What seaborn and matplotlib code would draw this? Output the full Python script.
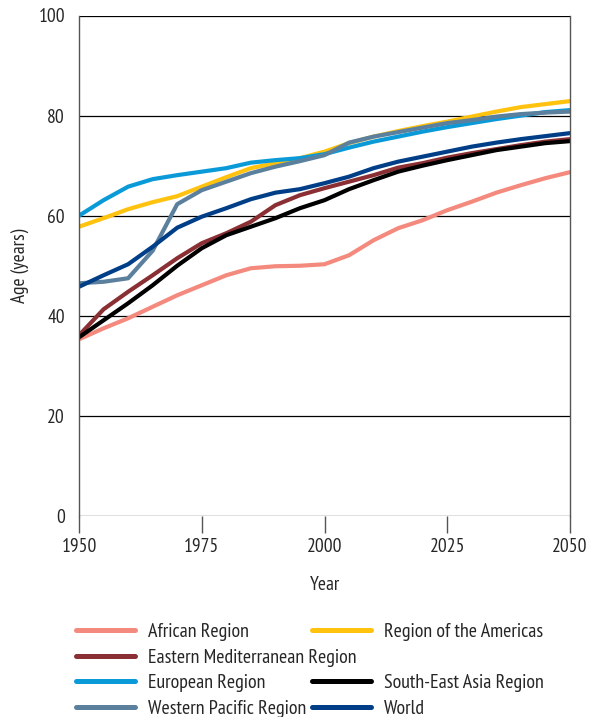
import pandas as pd
import seaborn as sns
import matplotlib.pyplot as plt
from matplotlib.lines import Line2D

# data (5-year steps)
years = list(range(1950, 2051, 5))
african = [35.3, 37.5, 39.5, 41.8, 44.1, 46.1, 48.1, 49.5, 49.9, 50.0, 50.3, 52.1, 55.1, 57.5, 59.1, 61.1, 62.8, 64.6, 66.1, 67.5, 68.7]
emr = [36.1, 41.3, 44.8, 48.1, 51.5, 54.5, 56.5, 58.8, 62.1, 64.1, 65.5, 66.8, 68.1, 69.6, 70.5, 71.6, 72.5, 73.3, 74.1, 74.8, 75.3]
european = [60.0, 63.1, 65.8, 67.3, 68.1, 68.8, 69.5, 70.6, 71.1, 71.5, 72.3, 73.6, 74.8, 75.8, 76.8, 77.7, 78.5, 79.3, 80.0, 80.7, 81.1]
americas = [57.8, 59.5, 61.3, 62.7, 63.9, 65.8, 67.7, 69.5, 70.5, 71.5, 72.8, 74.5, 75.8, 76.9, 77.9, 78.8, 79.8, 80.8, 81.7, 82.3, 82.9]
sear = [35.7, 39.1, 42.5, 46.1, 50.0, 53.5, 56.1, 57.8, 59.5, 61.5, 63.1, 65.3, 67.1, 68.8, 70.0, 71.1, 72.1, 73.1, 73.8, 74.5, 74.9]
wpr = [46.5, 46.8, 47.5, 53.0, 62.3, 65.1, 66.8, 68.5, 69.8, 70.9, 72.1, 74.6, 75.8, 76.7, 77.6, 78.5, 79.1, 79.8, 80.3, 80.6, 80.8]
world = [45.8, 48.1, 50.3, 53.8, 57.6, 59.8, 61.5, 63.3, 64.6, 65.3, 66.5, 67.8, 69.5, 70.8, 71.8, 72.8, 73.8, 74.6, 75.3, 75.9, 76.5]

series = {
    "African Region": african,
    "Region of the Americas": americas,
    "Eastern Mediterranean Region": emr,
    "European Region": european,
    "South-East Asia Region": sear,
    "Western Pacific Region": wpr,
    "World": world,
}
colors = {
    "African Region": "#f48a7e",
    "Region of the Americas": "#ffc20e",
    "Eastern Mediterranean Region": "#8a2f33",
    "European Region": "#0b9ad8",
    "South-East Asia Region": "#000000",
    "Western Pacific Region": "#5b809e",
    "World": "#003f88",
}

df = pd.DataFrame([
    {"Year": y, "Age": v, "Region": name}
    for name, vals in series.items() for y, v in zip(years, vals)
])

sns.set_style("white")
plt.rcParams["font.family"] = ["PT Sans Narrow", "Roboto Condensed", "DejaVu Sans"]

fig = plt.figure(figsize=(5.89, 7.17), dpi=100)
ax = fig.add_axes([79 / 589, 1 - 516 / 717, 491 / 589, 500.5 / 717])

sns.lineplot(data=df, x="Year", y="Age", hue="Region", palette=colors,
             linewidth=3, legend=False, ax=ax)

ax.set_xlim(1950, 2050)
ax.set_ylim(0, 100)
ax.set_xticks([1950, 1975, 2000, 2025, 2050])
ax.set_yticks([0, 20, 40, 60, 80, 100])
ax.grid(axis="y", color="black", linewidth=0.9)
ax.grid(axis="x", visible=False)
for side in ["top", "bottom"]:
    ax.spines[side].set_visible(False)
for side in ["left", "right"]:
    ax.spines[side].set_color("#555555")
    ax.spines[side].set_linewidth(1.0)
ax.tick_params(axis="x", length=12, width=1, color="#555555", pad=4, labelsize=14, bottom=True)
ax.tick_params(axis="y", length=0, pad=10, labelsize=14)
ax.set_xlabel("Year", fontsize=14, labelpad=14)
ax.set_ylabel("Age (years)", fontsize=14, labelpad=7)

def handle(name):
    return Line2D([], [], color=colors[name], linewidth=3.6, solid_capstyle="round")

blank = Line2D([], [], color="none")
left_names = ["African Region", "Eastern Mediterranean Region", "European Region", "Western Pacific Region"]
right_names = ["Region of the Americas", None, "South-East Asia Region", "World"]

leg_kw = dict(frameon=False, fontsize=14.4, handlelength=2.95, handletextpad=0.65,
              labelspacing=0.38, borderpad=0, borderaxespad=0, loc="upper left")
leg1 = fig.legend([handle(n) for n in left_names], left_names,
                  bbox_to_anchor=(76 / 589, 1 - 623 / 717), **leg_kw)
leg2 = fig.legend([handle(n) if n else blank for n in right_names],
                  [n if n else "" for n in right_names],
                  bbox_to_anchor=(312 / 589, 1 - 623 / 717), **leg_kw)

fig.savefig("out.png", dpi=100)
